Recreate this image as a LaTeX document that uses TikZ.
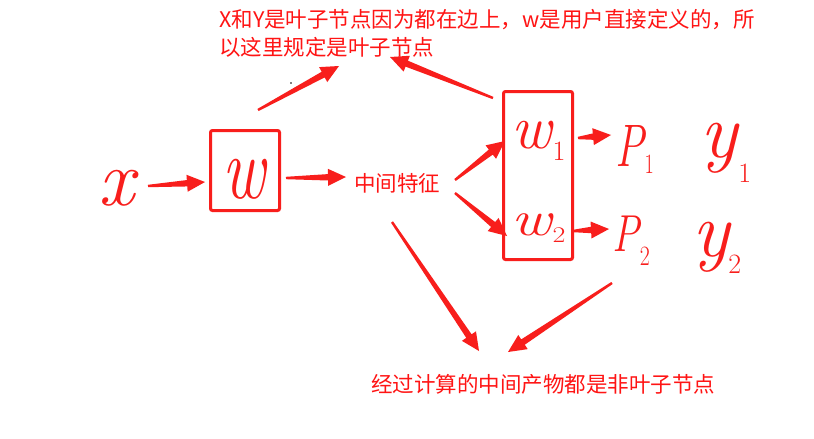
\documentclass[tikz,border=0pt]{standalone}
\usepackage{fontspec}
\newfontfamily\cjk{Noto Sans CJK SC}
\usetikzlibrary{calc}
\definecolor{ink}{RGB}{248,30,28}
\definecolor{txt}{RGB}{255,20,20}
% tapered hand-drawn arrow: #1 start, #2 tip
\newcommand\tarr[2]{%
  \path (#1) coordinate (ss) (#2) coordinate (tt);
  \path ($(tt)!18pt!(ss)$) coordinate (hh);
  \fill[ink] ($(ss)!1.2pt!90:(tt)$) -- ($(hh)!3.2pt!90:(tt)$) -- ($(hh)!8.5pt!90:(tt)$)
    -- (tt) -- ($(hh)!8.5pt!-90:(tt)$) -- ($(hh)!3.2pt!-90:(tt)$) -- ($(ss)!1.2pt!-90:(tt)$) -- cycle;}
\newcommand\hsz[1]{\fontsize{#1}{#1}\selectfont\itshape}
% handwritten subscript: #1 kern, #2 raise, #3 digit
\newcommand\hsb[3]{\kern#1pt\raisebox{#2pt}{\fontsize{28}{28}\selectfont\upshape #3}}
\begin{document}
\begin{tikzpicture}[x=1pt,y=-1pt,
  cbox/.style={draw=ink, line width=3pt, rounded corners=2pt, inner sep=0},
  cjktext/.style={text=txt, font=\cjk\fontsize{21.5}{28}\selectfont, inner sep=0},
  hand/.style={text=ink, inner sep=0, anchor=base west}]
\fill[white] (0,0) rectangle (814,439);
\useasboundingbox (0,0) rectangle (814,439);

% texts
\node[cjktext, anchor=north west, align=left] (top) at (219,9.5)
  {X和Y是叶子节点因为都在边上，w是用户直接定义的，所\\以这里规定是叶子节点};
\node[cjktext] (mid) at (397,183) {中间特征};
\node[cjktext] (bot) at (543,384) {经过计算的中间产物都是非叶子节点};

% boxes
\node[cbox, minimum width=69, minimum height=80] (wbox) at (245,170.5) {};
\node[cbox, minimum width=69, minimum height=168] (wwbox) at (538,175.5) {};

% handwritten symbols
\node[hand, font=\hsz{80}] (x) at (98,205) {x};
\node[hand, font=\hsz{66}, anchor=base, yscale=1.35] (w) at (244,198) {w};
\node[hand, font=\hsz{62}] (w1) at (511,148) {w\hsb{1}{-12}{1}};
\node[hand, font=\hsz{62}, yscale=0.8] (w2) at (511,235) {w\hsb{1}{-9}{2}};
\node[hand, font=\hsz{60}, xscale=0.72] (p1) at (615,166) {P\hsb{1}{-7}{1}};
\node[hand, font=\hsz{52}, xscale=0.78] (p2) at (612,251) {P\hsb{1}{-14}{2}};
\node[hand, font=\hsz{78}] (y1) at (700,157) {y\hsb{1}{-25}{1}};
\node[hand, font=\hsz{78}] (y2) at (692,256) {y\hsb{-1}{-17}{2}};

% arrow end points
\coordinate (a1s) at (148,186); \coordinate (a1e) at (205,182);
\coordinate (a2s) at (286,178); \coordinate (a2e) at (346,177);
\coordinate (a3s) at (258,110); \coordinate (a3e) at (339,66);
\coordinate (a4s) at (493,98);  \coordinate (a4e) at (390,57);
\coordinate (a5s) at (455,180); \coordinate (a5e) at (505,141);
\coordinate (a6s) at (455,193); \coordinate (a6e) at (507,236);
\coordinate (a7s) at (578,138); \coordinate (a7e) at (611,135);
\coordinate (a8s) at (573,231); \coordinate (a8e) at (609,229);
\coordinate (a9s) at (392,222); \coordinate (a9e) at (479,351);
\coordinate (a10s) at (612,283); \coordinate (a10e) at (508,352);
\tarr{a1s}{a1e}
\tarr{a2s}{a2e}
\tarr{a3s}{a3e}
\tarr{a4s}{a4e}
\tarr{a5s}{a5e}
\tarr{a6s}{a6e}
\tarr{a7s}{a7e}
\tarr{a8s}{a8e}
\tarr{a9s}{a9e}
\tarr{a10s}{a10e}

% small cursor mark
\fill[black] (291,83) circle (0.8);
\end{tikzpicture}
\end{document}
